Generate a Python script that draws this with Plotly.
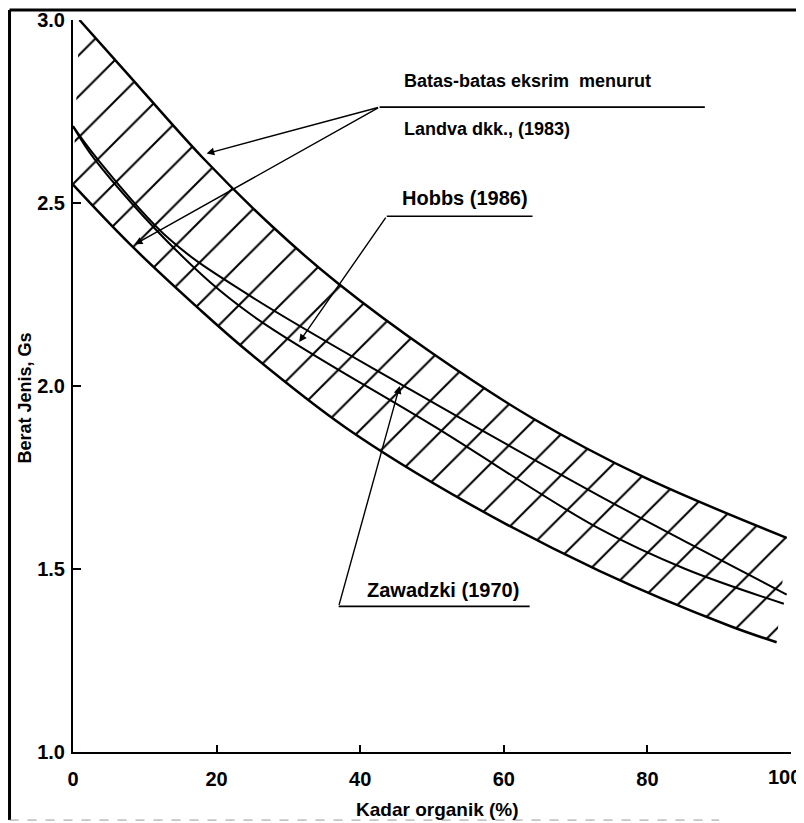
import plotly.graph_objects as go

# Band boundaries (Landva dkk., 1983)
upper_x = [0.9, 7.5, 18, 27.8, 36.8, 50, 64, 79.3, 99.4]
upper_y = [3.0, 2.855, 2.625, 2.435, 2.282, 2.09, 1.912, 1.753, 1.585]
lower_x = [0, 8, 17.6, 24.6, 38, 55, 73.3, 91.4, 98]
lower_y = [2.55, 2.386, 2.21, 2.09, 1.886, 1.68, 1.495, 1.345, 1.30]

# Zawadzki (1970)
zaw_x = [0, 3, 13.5, 24.6, 47, 73.3, 85.3, 99.4]
zaw_y = [2.71, 2.63, 2.40, 2.247, 1.99, 1.70, 1.575, 1.43]
# Hobbs (1986)
hob_x = [0, 3, 14.4, 24.6, 50.6, 73.3, 85.3, 99]
hob_y = [2.71, 2.62, 2.37, 2.198, 1.886, 1.61, 1.50, 1.405]

x_ticks = [0, 20, 40, 60, 80, 100]
x_ticklabels = ["0", "20", "40", "60", "80", "100"]
y_ticks = [1.0, 1.5, 2.0, 2.5, 3.0]

FONT = "Liberation Sans"
SPL = dict(shape="spline", smoothing=1.0)
fig = go.Figure()

fig.add_trace(go.Scatter(x=lower_x, y=lower_y, mode="lines",
                         line=dict(color="black", width=2.5, **SPL),
                         hoverinfo="skip", showlegend=False))
fig.add_trace(go.Scatter(x=upper_x, y=upper_y, mode="lines", fill="tonexty",
                         fillcolor="white",
                         fillpattern=dict(shape="/", size=29, solidity=0.07,
                                          fgcolor="black", bgcolor="white", fgopacity=1),
                         line=dict(color="black", width=2.5, **SPL),
                         hoverinfo="skip", showlegend=False))
fig.add_trace(go.Scatter(x=zaw_x, y=zaw_y, mode="lines",
                         line=dict(color="black", width=2, **SPL),
                         showlegend=False))
fig.add_trace(go.Scatter(x=hob_x, y=hob_y, mode="lines",
                         line=dict(color="black", width=2, **SPL),
                         showlegend=False))

ann = []
def arrow(hx, hy, tx, ty):
    ann.append(dict(x=hx, y=hy, ax=tx, ay=ty, xref="x", yref="y", axref="x", ayref="y",
                    text="", showarrow=True, arrowhead=2, arrowsize=1.1, arrowwidth=1.4,
                    arrowcolor="black"))

def label(x, y, t, size):
    ann.append(dict(x=x, y=y, xref="x", yref="y", text=t, showarrow=False,
                    xanchor="left", yanchor="middle",
                    font=dict(family=FONT, size=size, color="black", weight="bold")))

arrow(18.6, 2.635, 42.7, 2.762)
arrow(8.6, 2.387, 42.7, 2.762)
arrow(31.5, 2.12, 43.7, 2.464)
arrow(45.5, 2.0, 37.0, 1.398)

label(45.8, 2.832, "Batas-batas eksrim  menurut", 18)
label(45.8, 2.703, "Landva dkk., (1983)", 18)
label(45.5, 2.514, "Hobbs (1986)", 20)
label(40.6, 1.444, "Zawadzki (1970)", 20)

# last x tick label kept inside the page
ann.append(dict(x=1.0165, y=-0.034, xref="paper", yref="paper", text=x_ticklabels[-1],
                showarrow=False, xanchor="right", yanchor="middle",
                font=dict(family=FONT, size=20, color="black", weight="bold")))

ann.append(dict(x=0.508, y=-0.079, xref="paper", yref="paper", text="Kadar organik (%)",
                showarrow=False, xanchor="center", yanchor="middle",
                font=dict(family=FONT, size=19, color="black", weight="bold")))
ann.append(dict(x=-0.067, y=0.484, xref="paper", yref="paper", text="Berat Jenis, Gs",
                showarrow=False, xanchor="center", yanchor="middle", textangle=-90,
                font=dict(family=FONT, size=18, color="black", weight="bold")))

shapes = [
    dict(type="line", xref="x", yref="y", x0=42.7, x1=88.0, y0=2.762, y1=2.762,
         line=dict(color="black", width=1.6)),
    dict(type="line", xref="x", yref="y", x0=43.7, x1=64.0, y0=2.464, y1=2.464,
         line=dict(color="black", width=1.6)),
    dict(type="line", xref="x", yref="y", x0=37.0, x1=63.6, y0=1.398, y1=1.398,
         line=dict(color="black", width=1.6)),
    # scan frame
    dict(type="line", xref="paper", yref="paper", x0=-0.0884, x1=-0.0884, y0=-0.093, y1=1.0137,
         line=dict(color="black", width=3)),
    dict(type="line", xref="paper", yref="paper", x0=-0.0884, x1=1.02, y0=1.0137, y1=1.0137,
         line=dict(color="black", width=3)),
    dict(type="line", xref="paper", yref="paper", x0=-0.0884, x1=0.9, y0=-0.093, y1=-0.093,
         line=dict(color="#999999", width=1, dash="dash")),
]

fig.update_layout(
    width=796, height=815,
    margin=dict(l=65, r=13, t=12, b=71),
    paper_bgcolor="white", plot_bgcolor="white",
    annotations=ann, shapes=shapes,
    showlegend=False,
)
fig.update_xaxes(range=[0, 100], tickvals=x_ticks,
                 ticktext=x_ticklabels[:-1] + [""],
                 automargin=False,
                 showgrid=False, zeroline=False, showline=True, linecolor="black", linewidth=1.6,
                 ticks="inside", ticklen=7, tickwidth=1.5, tickcolor="black",
                 ticklabelstandoff=8, ticklabeloverflow="allow",
                 tickfont=dict(family=FONT, size=20, color="black", weight="bold"))
fig.update_yaxes(range=[1.0, 3.0], tickvals=y_ticks, ticktext=[f"{v:.1f}" for v in y_ticks],
                 automargin=False,
                 showgrid=False, zeroline=False, showline=True, linecolor="black", linewidth=2,
                 ticks="inside", ticklen=8, tickwidth=1.5, tickcolor="black",
                 ticklabelstandoff=2, ticklabeloverflow="allow",
                 tickfont=dict(family=FONT, size=20, color="black", weight="bold"))

fig.write_html("out.html")
